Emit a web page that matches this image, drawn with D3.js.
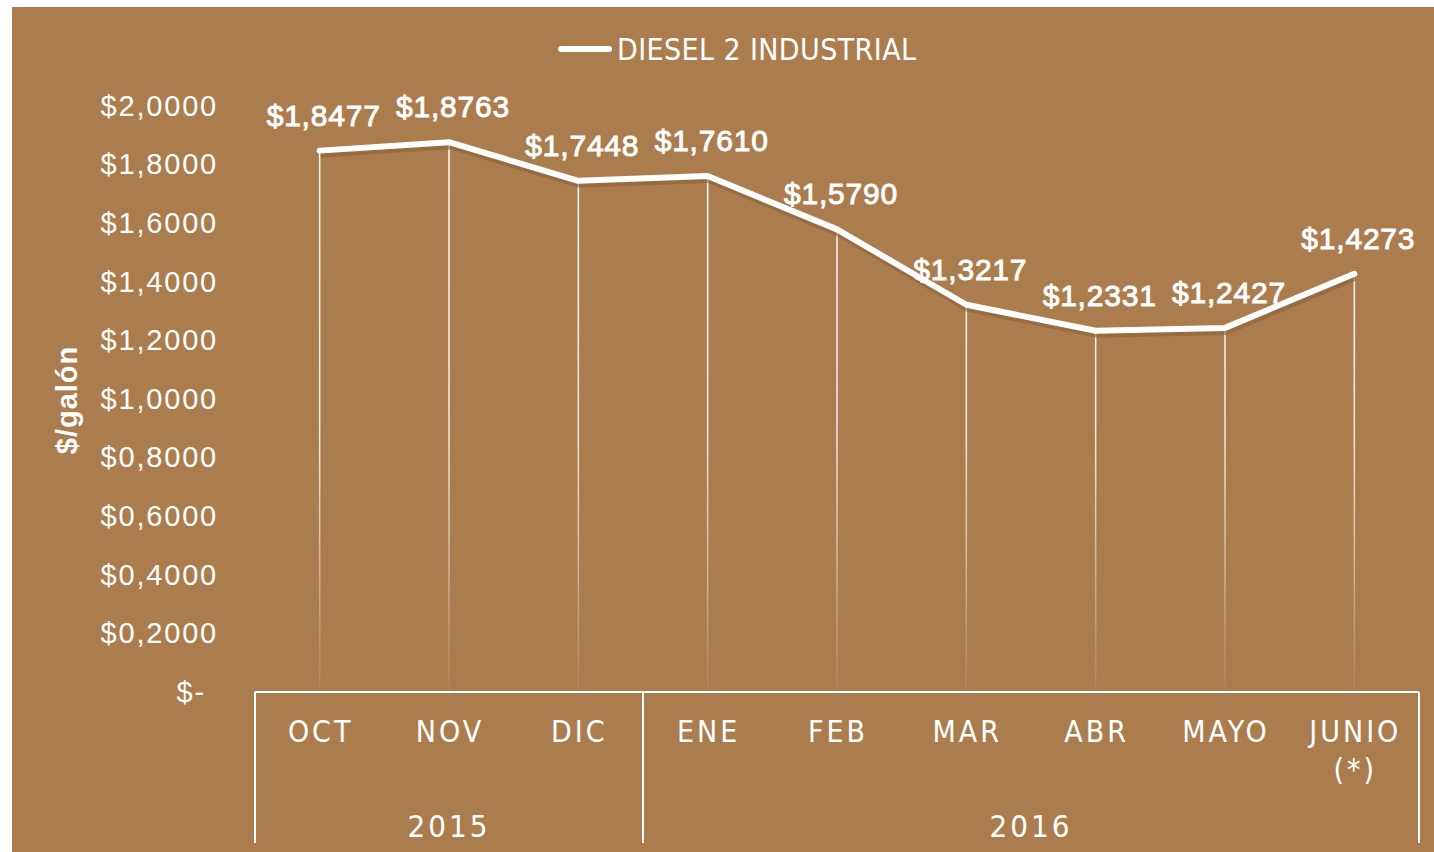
<!DOCTYPE html>
<html>
<head>
<meta charset="utf-8">
<script src="https://cdn.jsdelivr.net/npm/d3@7"></script>
<style>
  body { margin: 0; background: #fff; }
  svg { display: block; }
</style>
</head>
<body>
<script>
// data
var months = ["OCT", "NOV", "DIC", "ENE", "FEB", "MAR", "ABR", "MAYO", "JUNIO (*)"];
var years = ["2015", "2015", "2015", "2016", "2016", "2016", "2016", "2016", "2016"];
var prices = [1.8477, 1.8763, 1.7448, 1.7610, 1.5790, 1.3217, 1.2331, 1.2427, 1.4273];
var yTicks = [0, 0.2, 0.4, 0.6, 0.8, 1.0, 1.2, 1.4, 1.6, 1.8, 2.0];
var seriesName = "DIESEL 2 INDUSTRIAL";

var W = 1434, H = 852;
var bg = "#ab7d4e";

var svg = d3.select("body").append("svg")
    .attr("width", W)
    .attr("height", H);

// brown panel
svg.append("rect")
    .attr("x", 12).attr("y", 7)
    .attr("width", W - 12).attr("height", H - 7)
    .attr("fill", bg);

var x = d3.scaleBand().domain(months).range([255, 1419]);
var y = d3.scaleLinear().domain([0, 2]).range([692, 106]);

var fmt = function(v) {
    if (v === 0) return "$-";
    return "$" + d3.format(".4f")(v).replace(".", ",");
};

// gradient for the drop lines
var defs = svg.append("defs");
var grad = defs.append("linearGradient")
    .attr("id", "drop")
    .attr("gradientUnits", "userSpaceOnUse")
    .attr("x1", 0).attr("x2", 0)
    .attr("y1", y(2)).attr("y2", y(0));
grad.append("stop").attr("offset", "0").attr("stop-color", "#fff").attr("stop-opacity", 1);
grad.append("stop").attr("offset", "0.55").attr("stop-color", "#fff").attr("stop-opacity", 0.85);
grad.append("stop").attr("offset", "1").attr("stop-color", "#fff").attr("stop-opacity", 0.05);

// y axis labels
var yAxis = svg.append("g")
    .attr("transform", "translate(218,0)")
    .call(d3.axisLeft(y).tickValues(yTicks).tickFormat(fmt).tickSize(0).tickPadding(0));
yAxis.select(".domain").remove();
yAxis.selectAll("text")
    .attr("fill", "#fff")
    .style("font-family", "'Liberation Sans', Arial, sans-serif")
    .style("font-size", "29px")
    .style("letter-spacing", "1.8px")
    .attr("dx", function(d) { return d === 0 ? -12 : 0; });

// y axis title
svg.append("text")
    .attr("transform", "translate(77,400) rotate(-90)")
    .attr("text-anchor", "middle")
    .attr("fill", "#fff")
    .style("font-family", "'Liberation Sans', Arial, sans-serif")
    .style("font-size", "29px")
    .style("font-weight", "bold")
    .style("letter-spacing", "1px")
    .text("$/galón");

// drop lines
svg.append("g")
    .selectAll("line")
    .data(prices)
    .enter()
    .append("line")
    .attr("x1", function(d, i) { return x(months[i]) + x.bandwidth() / 2; })
    .attr("x2", function(d, i) { return x(months[i]) + x.bandwidth() / 2; })
    .attr("y1", function(d) { return y(d); })
    .attr("y2", y(0))
    .attr("stroke", "url(#drop)")
    .attr("stroke-width", 1.5);

var line = d3.line()
    .x(function(d, i) { return x(months[i]) + x.bandwidth() / 2; })
    .y(function(d) { return y(d); });

// shadow then line
svg.append("path")
    .datum(prices)
    .attr("d", line)
    .attr("transform", "translate(1,4)")
    .attr("fill", "none")
    .attr("stroke", "#8a6039")
    .attr("stroke-opacity", 0.6)
    .attr("stroke-width", 6);

svg.append("path")
    .datum(prices)
    .attr("d", line)
    .attr("fill", "none")
    .attr("stroke", "#fff")
    .attr("stroke-width", 6)
    .attr("stroke-linejoin", "round")
    .attr("stroke-linecap", "round");

// data labels
svg.append("g")
    .selectAll("text")
    .data(prices)
    .enter()
    .append("text")
    .attr("x", function(d, i) { return x(months[i]) + x.bandwidth() / 2 + 4; })
    .attr("y", function(d) { return y(d) - 25; })
    .attr("text-anchor", "middle")
    .attr("fill", "#fff")
    .attr("stroke", "#fff")
    .attr("stroke-width", 0.9)
    .style("font-family", "'Liberation Sans', Arial, sans-serif")
    .style("font-size", "30px")
    .style("letter-spacing", "0.8px")
    .text(fmt);

// legend
svg.append("line")
    .attr("x1", 561).attr("x2", 609)
    .attr("y1", 49).attr("y2", 49)
    .attr("stroke", "#fff")
    .attr("stroke-width", 6)
    .attr("stroke-linecap", "round");
svg.append("text")
    .attr("x", 617).attr("y", 60)
    .attr("fill", "#fff")
    .style("font-family", "'Liberation Sans Narrow', 'DejaVu Sans Condensed', sans-serif")
    .style("font-size", "30px")
    .style("letter-spacing", "0.4px")
    .text(seriesName);

// category axis box
var axisG = svg.append("g").attr("stroke", "#fff").attr("stroke-width", 2);
axisG.append("line")
    .attr("x1", x.range()[0]).attr("x2", x.range()[1])
    .attr("y1", y(0)).attr("y2", y(0));

var dividers = [0, 3, 9];
axisG.selectAll(".div")
    .data(dividers)
    .enter()
    .append("line")
    .attr("x1", function(i) { return i < months.length ? x(months[i]) : x.range()[1]; })
    .attr("x2", function(i) { return i < months.length ? x(months[i]) : x.range()[1]; })
    .attr("y1", y(0))
    .attr("y2", 843);

var catFont = "'Liberation Sans Narrow', 'DejaVu Sans Condensed', sans-serif";

// month labels
var mText = svg.append("g")
    .selectAll("text")
    .data(months)
    .enter()
    .append("text")
    .attr("text-anchor", "middle")
    .attr("fill", "#fff")
    .style("font-family", catFont)
    .style("font-size", "30px")
    .style("letter-spacing", "3px");

mText.each(function(d) {
    var parts = d.split(" ");
    var t = d3.select(this);
    parts.forEach(function(p, k) {
        t.append("tspan")
            .attr("x", x(d) + x.bandwidth() / 2 + 1)
            .attr("y", 742 + k * 38)
            .text(p);
    });
});

// year labels
var yearGroups = Array.from(d3.group(months.map(function(m, i) { return {m: m, yr: years[i]}; }), function(d) { return d.yr; }));
svg.append("g")
    .selectAll("text")
    .data(yearGroups)
    .enter()
    .append("text")
    .attr("x", function(g) {
        var list = g[1];
        var x0 = x(list[0].m), x1 = x(list[list.length - 1].m) + x.bandwidth();
        return (x0 + x1) / 2;
    })
    .attr("y", 837)
    .attr("text-anchor", "middle")
    .attr("fill", "#fff")
    .style("font-family", catFont)
    .style("font-size", "31px")
    .style("letter-spacing", "3px")
    .text(function(g) { return g[0]; });
</script>
</body>
</html>
